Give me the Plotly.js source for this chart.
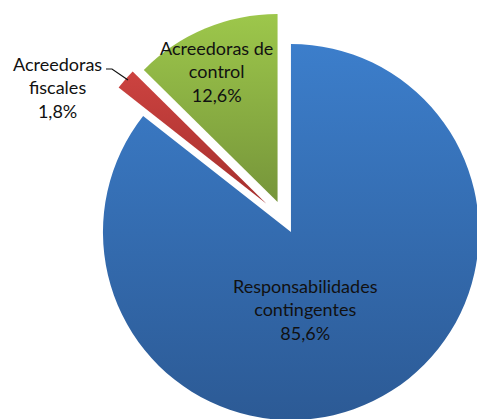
<!DOCTYPE html>
<html>
<head>
<meta charset="utf-8">
<script src="https://cdn.plot.ly/plotly-3.0.1.min.js"></script>
<style>
  html, body { margin: 0; padding: 0; background: #ffffff; overflow: hidden; width: 477px; height: 419px; }
  #chart { width: 520px; height: 440px; }
</style>
</head>
<body>
<div id="chart"></div>
<script>
// Data
const categories = ["Responsabilidades contingentes", "Acreedoras fiscales", "Acreedoras de control"];
const labelLines = [["Responsabilidades", "contingentes"], ["Acreedoras", "fiscales"], ["Acreedoras de", "control"]];
const shares = [85.6, 1.8, 12.6];

// Styles
const pulls = [0.07, 0.133, 0.105];
const baseColors = ["#3670b6", "#c0393a", "#8bb043"];
const gradTop = ["#3c7ecb", "#cc4340", "#9dc74b"];
const gradBottom = ["#2c5a95", "#a62f2d", "#76953a"];

const W = 520, H = 440;
const px = x => x / W;
const py = y => 1 - y / H;

// Label positions in pixels (centres of text blocks)
const labelPos = [[305, 309], [57, 88], [216, 71]];

function fmt(v) { return v.toFixed(1).replace('.', ',') + '%'; }

const trace = {
  type: 'pie',
  labels: categories,
  values: shares,
  sort: false,
  direction: 'clockwise',
  rotation: 0,
  pull: pulls,
  marker: { colors: baseColors, line: { width: 0 } },
  textinfo: 'none',
  hoverinfo: 'label+percent',
  showlegend: false,
  domain: { x: [px(285.2 - 213), px(285.2 + 213)], y: [py(220.2 + 213), py(220.2 - 213)] }
};

const annotations = categories.map((c, i) => ({
  xref: 'paper', yref: 'paper',
  x: px(labelPos[i][0]), y: py(labelPos[i][1]),
  xanchor: 'center', yanchor: 'middle',
  showarrow: false,
  align: 'center',
  text: labelLines[i].join('<br>') + '<br>' + fmt(shares[i]),
  font: { family: 'Lato, "Open Sans", sans-serif', size: 18, color: '#111111' }
}));

const layout = {
  width: W, height: H,
  margin: { l: 0, r: 0, t: 0, b: 0 },
  paper_bgcolor: '#ffffff',
  plot_bgcolor: '#ffffff',
  showlegend: false,
  annotations: annotations,
  shapes: [{
    type: 'path', xref: 'paper', yref: 'paper',
    path: 'M ' + px(106) + ' ' + py(69) + ' L ' + px(112) + ' ' + py(69) + ' L ' + px(128) + ' ' + py(80),
    line: { color: '#111111', width: 1.2 }
  }]
};

Plotly.newPlot('chart', [trace], layout, { staticPlot: true, displayModeBar: false }).then(gd => {
  const svg = gd.querySelector('svg.main-svg');
  const ns = 'http://www.w3.org/2000/svg';
  let defs = svg.querySelector('defs');
  if (!defs) { defs = document.createElementNS(ns, 'defs'); svg.insertBefore(defs, svg.firstChild); }
  gradTop.forEach((t, i) => {
    const g = document.createElementNS(ns, 'linearGradient');
    g.setAttribute('id', 'slicegrad' + i);
    g.setAttribute('x1', '0'); g.setAttribute('y1', '0');
    g.setAttribute('x2', '0'); g.setAttribute('y2', '1');
    const s1 = document.createElementNS(ns, 'stop');
    s1.setAttribute('offset', '0'); s1.setAttribute('stop-color', t);
    const s2 = document.createElementNS(ns, 'stop');
    s2.setAttribute('offset', '1'); s2.setAttribute('stop-color', gradBottom[i]);
    g.appendChild(s1); g.appendChild(s2);
    defs.appendChild(g);
  });
  const paths = gd.querySelectorAll('g.slice path.surface');
  paths.forEach((p, i) => { p.style.fill = 'url(#slicegrad' + i + ')'; });
});
</script>
</body>
</html>
